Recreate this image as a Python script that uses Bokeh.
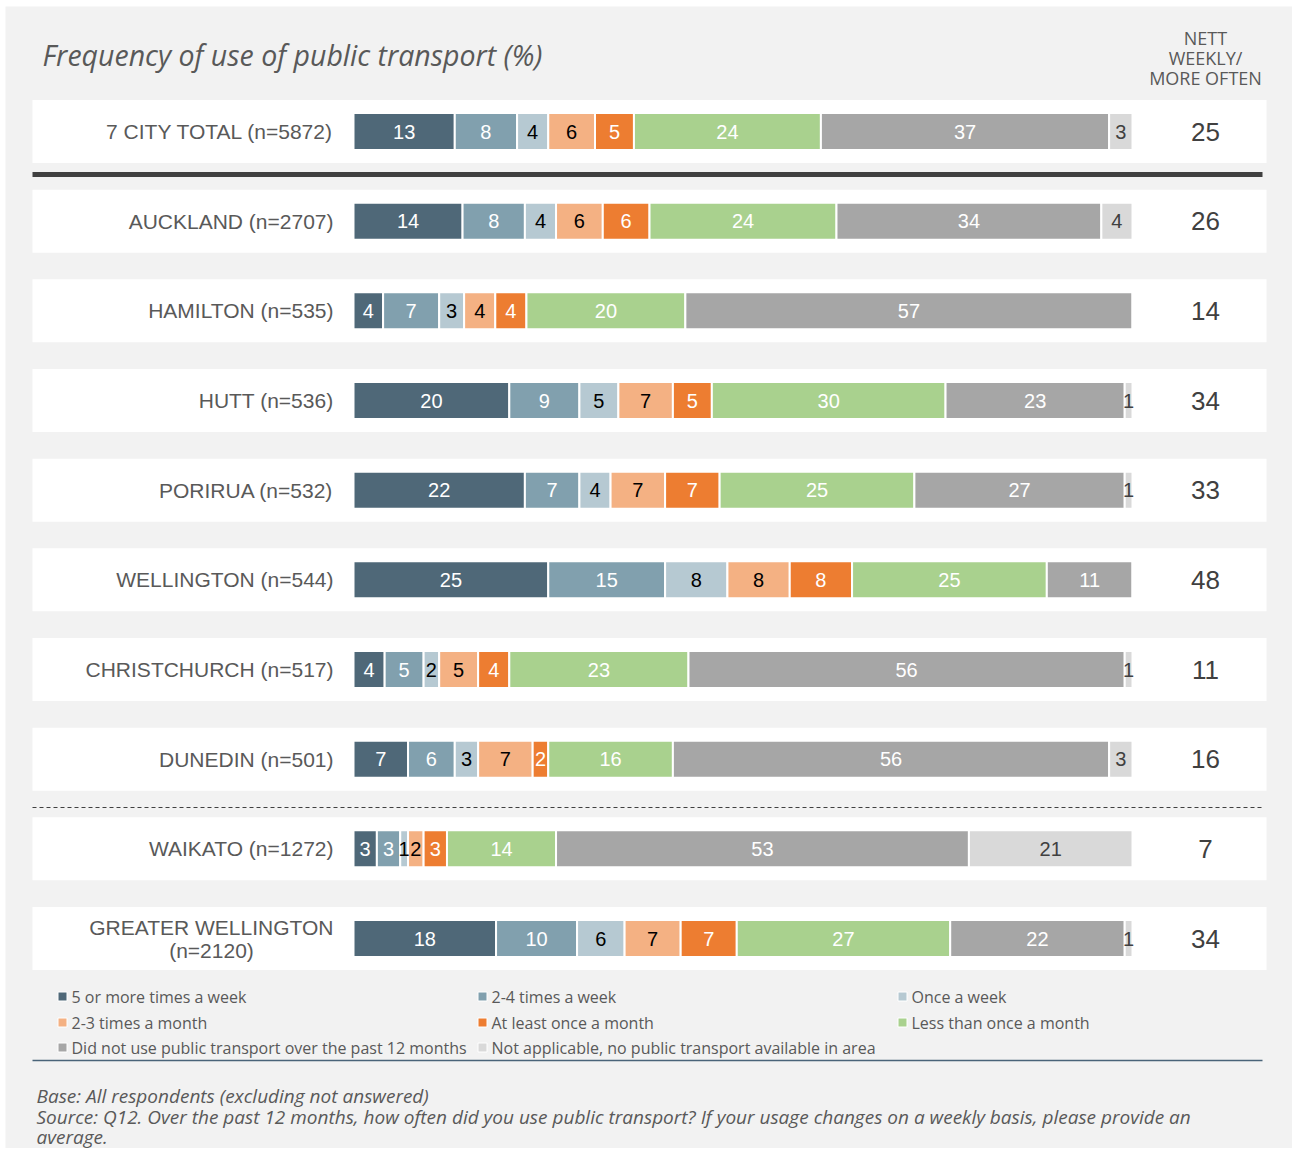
from bokeh.plotting import figure
from bokeh.models import Range1d, ColumnDataSource
from bokeh.core.properties import value
from bokeh.embed import file_html
from bokeh.resources import INLINE

# ---------------- data ----------------
categories = ["7 CITY TOTAL (n=5872)", "AUCKLAND (n=2707)", "HAMILTON (n=535)",
              "HUTT (n=536)", "PORIRUA (n=532)", "WELLINGTON (n=544)",
              "CHRISTCHURCH (n=517)", "DUNEDIN (n=501)", "WAIKATO (n=1272)",
              "GREATER WELLINGTON\n(n=2120)"]
series_names = ["5 or more times a week", "2-4 times a week", "Once a week",
                "2-3 times a month", "At least once a month", "Less than once a month",
                "Did not use public transport over the past 12 months",
                "Not applicable, no public transport available in area"]
s_5plus = [13, 14, 3.8, 20, 22, 25, 4, 7, 3, 18.3]
s_2to4 = [8, 8, 7.2, 9, 7, 15, 5, 6, 3, 10.4]
s_once = [4, 4, 3.2, 5, 4, 8, 2, 3, 1, 6.1]
s_2to3m = [6, 6, 4.0, 7, 7, 8, 5, 7, 2, 7.2]
s_least = [5, 6, 4.0, 5, 7, 8, 4, 2, 3, 7.2]
s_less = [24, 24, 20.4, 30, 25, 25, 23, 16, 14, 27.4]
s_none = [37, 34, 57.4, 23, 27, 11, 56, 56, 53, 22.4]
s_na = [3, 4, 0, 1, 1, 0, 1, 3, 21, 1.0]
nett = [25, 26, 14, 34, 33, 48, 11, 16, 7, 34]

all_series = [s_5plus, s_2to4, s_once, s_2to3m, s_least, s_less, s_none, s_na]
colors = ["#4F6878", "#81A0AE", "#B6C9D2", "#F4B183", "#ED7D31", "#A9D18E", "#A6A6A6", "#D9D9D9"]
label_colors = ["white", "white", "black", "black", "white", "white", "white", "#404040"]

# ---------------- geometry helpers (reference pixel -> data) ----------------
W, H = 1292, 1148
FL, FT = 5, 6      # white strip at left / top
KX = 7.79          # px per percent
X0PX = 353         # px of 0 %
ROWPX = 89.67      # px per row
Y0PX = 131         # px of row 0 centre


def px2x(px):
    return (px - X0PX) / KX


def py2y(py):
    return (py - Y0PX) / ROWPX


p = figure(width=W, height=H, output_backend="svg", toolbar_location=None,
           x_range=Range1d(px2x(FL), px2x(W)),
           y_range=Range1d(py2y(H), py2y(FT)),
           x_axis_location=None, y_axis_location=None,
           min_border_left=FL, min_border_top=FT, min_border_right=0, min_border_bottom=0,
           background_fill_color="#F2F2F2",
           border_fill_color="white", outline_line_color=None)
p.xgrid.visible = False
p.ygrid.visible = False

GRAY = "#595959"
CAL = "Open Sans"
ARIAL = "Liberation Sans"

rows = list(range(len(categories)))

# white row panels
half = 31.5 / ROWPX
p.quad(left=[px2x(32)] * len(rows), right=[px2x(1266)] * len(rows),
       top=[r - half for r in rows], bottom=[r + half for r in rows],
       fill_color="white", line_color=None)

# stacked bars
data = {"row": rows}
keys = []
for i, s in enumerate(all_series):
    k = f"s{i}"
    data[k] = s
    keys.append(k)
src = ColumnDataSource(data)
p.hbar_stack(keys, y="row", height=37 / ROWPX, color=colors, source=src,
             line_color="white", line_width=2)

# segment labels
for i, s in enumerate(all_series):
    xs, ys, ts = [], [], []
    for r in rows:
        v = s[r]
        if v <= 0:
            continue
        left = sum(all_series[j][r] for j in range(i))
        xs.append(left + v / 2)
        ys.append(r)
        ts.append(f"{v:.0f}")
    p.text(x=xs, y=ys, text=ts, text_align="center", text_baseline="middle",
           text_font=value(ARIAL), text_font_size="20px", text_color=label_colors[i])

# category labels
for r, c in enumerate(categories):
    lines = c.split("\n")
    if len(lines) == 1:
        p.text(x=[px2x(333)], y=[r], text=[c], text_align="right", text_baseline="middle",
               text_font=value(ARIAL), text_font_size="21px", text_color=GRAY)
    else:
        p.text(x=[px2x(333)], y=[r - 11.5 / ROWPX], text=[lines[0]], text_align="right",
               text_baseline="middle", text_font=value(ARIAL), text_font_size="21px",
               text_color=GRAY)
        p.text(x=[px2x(211)], y=[r + 11.5 / ROWPX], text=[lines[1]], text_align="center",
               text_baseline="middle", text_font=value(ARIAL), text_font_size="21px",
               text_color=GRAY)

# nett column
p.text(x=[px2x(1205)] * len(rows), y=rows, text=[str(v) for v in nett],
       text_align="center", text_baseline="middle", text_font=value(ARIAL),
       text_font_size="26px", text_color="#404040")
p.text(x=[px2x(1205)] * 3, y=[py2y(37), py2y(57), py2y(77)],
       text=["NETT", "WEEKLY/", "MORE OFTEN"], text_align="center", text_baseline="middle",
       text_font=value(CAL), text_font_size="18px", text_color=GRAY)

# title
p.text(x=[px2x(42)], y=[py2y(54)], text=["Frequency of use of public transport (%)"],
       text_align="left", text_baseline="middle", text_font=value(CAL),
       text_font_size="28.5px", text_font_style="italic", text_color=GRAY)

# separators
p.segment(x0=[px2x(32)], x1=[px2x(1262)], y0=[py2y(174)], y1=[py2y(174)],
          line_color="#404040", line_width=5)
p.segment(x0=[px2x(32)], x1=[px2x(1262)], y0=[py2y(807)], y1=[py2y(807)],
          line_color="#404040", line_width=1, line_dash="4 3")
p.segment(x0=[px2x(32)], x1=[px2x(1262)], y0=[py2y(1060)], y1=[py2y(1060)],
          line_color="#4A6479", line_width=1.5)

# legend
col_px = [58, 478, 898]
row_py = [996, 1022, 1047]
for i, name in enumerate(series_names):
    cx = col_px[i % 3]
    cy = row_py[i // 3]
    p.rect(x=[px2x(cx + 4)], y=[py2y(cy)], width=9, height=9, width_units="screen",
           height_units="screen", fill_color=colors[i], line_color="white", line_width=1)
    p.text(x=[px2x(cx + 13)], y=[py2y(cy)], text=[name], text_align="left",
           text_baseline="middle", text_font=value(CAL), text_font_size="16px",
           text_color=GRAY)

# footnotes
notes = ["Base: All respondents (excluding not answered)",
         "Source: Q12. Over the past 12 months, how often did you use public transport? If your usage changes on a weekly basis, please provide an",
         "average."]
for t, yy in zip(notes, [1095, 1116, 1136]):
    p.text(x=[px2x(36)], y=[py2y(yy)], text=[t], text_align="left", text_baseline="middle",
           text_font=value(CAL), text_font_size="19px", text_font_style="italic",
           text_color=GRAY)

open("out.html", "w").write(file_html(p, INLINE))
